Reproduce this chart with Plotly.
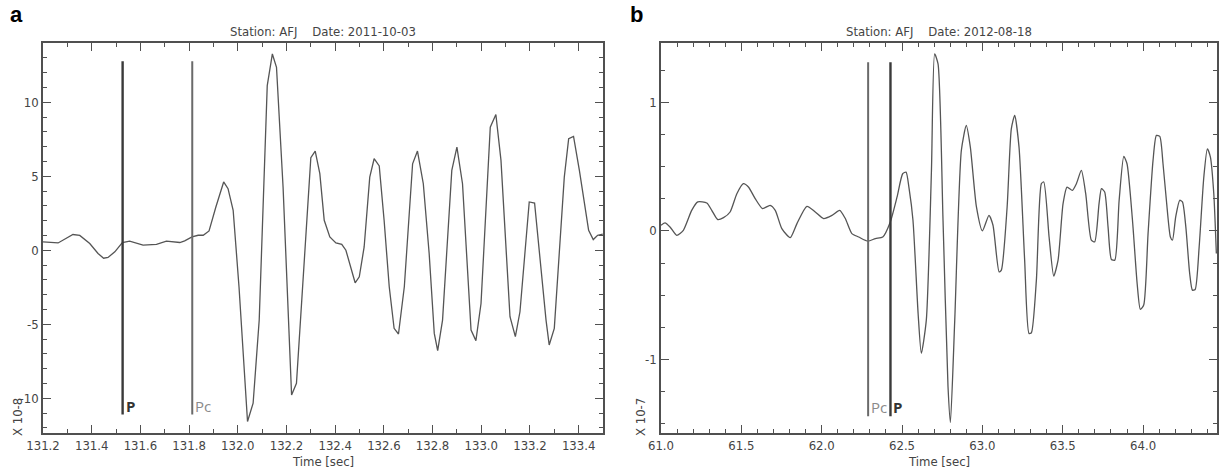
import plotly.graph_objects as go

# panel a: station AFJ, 2011-10-03 (amplitude x 10^-8)
t_a = [131.200, 131.262, 131.323, 131.351, 131.392, 131.426, 131.449, 131.467, 131.495,
       131.526, 131.556, 131.611, 131.666, 131.707, 131.762, 131.782, 131.812, 131.837,
       131.858, 131.882, 131.910, 131.942, 131.960, 131.981, 132.005, 132.040, 132.063,
       132.088, 132.121, 132.142, 132.159, 132.186, 132.221, 132.241, 132.275, 132.300,
       132.318, 132.337, 132.355, 132.378, 132.403, 132.427, 132.444, 132.482, 132.499,
       132.519, 132.542, 132.560, 132.581, 132.601, 132.622, 132.642, 132.660, 132.684,
       132.718, 132.738, 132.762, 132.786, 132.807, 132.821, 132.841, 132.879, 132.900,
       132.923, 132.958, 132.978, 132.999, 133.037, 133.060, 133.081, 133.118, 133.140,
       133.159, 133.197, 133.219, 133.238, 133.266, 133.279, 133.300, 133.341, 133.359,
       133.379, 133.403, 133.441, 133.460, 133.478, 133.499]
amp_a = [0.56, 0.49, 1.06, 1.00, 0.45, -0.22, -0.54, -0.49, -0.11,
         0.52, 0.61, 0.34, 0.40, 0.61, 0.52, 0.63, 0.90, 1.01,
         1.01, 1.30, 2.92, 4.61, 4.16, 2.70, -2.47, -11.57, -10.34,
         -4.72, 11.12, 13.26, 12.36, 4.27, -9.78, -8.99, -0.22, 6.25,
         6.70, 5.17, 2.02, 0.90, 0.49, 0.40, 0.00, -2.20, -1.80,
         0.22, 4.94, 6.18, 5.69, 2.02, -2.47, -5.28, -5.66, -2.47,
         5.84, 6.70, 4.49, -0.22, -5.62, -6.79, -4.72, 5.39, 6.97,
         4.49, -5.39, -6.11, -3.60, 8.31, 9.17, 6.07, -4.49, -5.84,
         -4.16, 3.26, 3.19, -0.22, -4.72, -6.40, -5.28, 4.94, 7.53,
         7.69, 5.39, 1.35, 0.72, 1.01, 1.08]

# panel b: station AFJ, 2012-08-18 (amplitude x 10^-7)
t_b = [61.000, 61.025, 61.056, 61.098, 61.139, 61.191, 61.229, 61.285, 61.316, 61.353,
       61.389, 61.430, 61.472, 61.513, 61.544, 61.586, 61.632, 61.679, 61.711, 61.752,
       61.804, 61.846, 61.908, 61.960, 62.012, 62.064, 62.112, 62.147, 62.188, 62.230,
       62.288, 62.334, 62.380, 62.427, 62.469, 62.504, 62.525, 62.544, 62.568, 62.600,
       62.620, 62.651, 62.683, 62.703, 62.724, 62.755, 62.786, 62.801, 62.828, 62.869,
       62.900, 62.925, 62.963, 63.000, 63.041, 63.066, 63.104, 63.118, 63.154, 63.180,
       63.201, 63.228, 63.263, 63.290, 63.305, 63.336, 63.367, 63.382, 63.415, 63.444,
       63.471, 63.502, 63.527, 63.560, 63.585, 63.616, 63.643, 63.678, 63.699, 63.726,
       63.741, 63.761, 63.782, 63.803, 63.824, 63.851, 63.880, 63.900, 63.934, 63.963,
       63.983, 64.004, 64.031, 64.062, 64.083, 64.104, 64.124, 64.145, 64.170, 64.183,
       64.203, 64.228, 64.245, 64.266, 64.290, 64.307, 64.324, 64.349, 64.378, 64.400,
       64.419, 64.440, 64.456]
amp_b = [0.044, 0.062, 0.031, -0.034, 0.005, 0.160, 0.225, 0.217, 0.160, 0.088,
         0.103, 0.147, 0.289, 0.367, 0.341, 0.251, 0.173, 0.199, 0.160, 0.018,
         -0.052, 0.057, 0.191, 0.147, 0.096, 0.121, 0.160, 0.096, -0.021, -0.047,
         -0.080, -0.059, -0.047, 0.070, 0.264, 0.444, 0.457, 0.328, 0.083, -0.641,
         -0.951, -0.693, 0.470, 1.375, 1.297, 0.083, -1.209, -1.488, -0.693, 0.625,
         0.819, 0.651, 0.186, 0.000, 0.121, 0.044, -0.318, -0.305, 0.186, 0.793,
         0.897, 0.651, -0.227, -0.796, -0.791, -0.382, 0.367, 0.380, -0.047, -0.351,
         -0.227, 0.212, 0.341, 0.315, 0.367, 0.470, 0.289, -0.072, -0.085, 0.212,
         0.328, 0.302, 0.031, -0.222, -0.227, 0.238, 0.579, 0.522, 0.083, -0.408,
         -0.610, -0.576, -0.021, 0.548, 0.742, 0.734, 0.522, 0.238, -0.047, -0.072,
         0.109, 0.238, 0.225, 0.031, -0.331, -0.460, -0.455, -0.124, 0.419, 0.638,
         0.574, 0.289, -0.176]

# picks: name, time, line top, line bottom
picks_a = [("P", 131.527, 12.76, -11.1), ("Pc", 131.813, 12.76, -11.1)]
picks_b = [("Pc", 62.289, 1.31, -1.44), ("P", 62.428, 1.31, -1.44)]

titles = ["Station: AFJ    Date: 2011-10-03", "Station: AFJ    Date: 2012-08-18"]
panel_letters = ["a", "b"]
scale_labels = ["X 10-8", "X 10-7"]
yticks_a = [-10, -5, 0, 5, 10]
yticktext_a = ["-10", "-5", "0", "5", "10"]
yticks_b = [-1, 0, 1]
yticktext_b = ["-1", "0", "1"]

W, H = 1224, 470
AX = "#505050"
TXT = "#444444"
FONT = "Liberation Sans Narrow, DejaVu Sans Condensed, Arial Narrow, sans-serif"

fig = go.Figure()

fig.add_trace(go.Scatter(x=t_a, y=amp_a, mode="lines", line=dict(color="#555555", width=1.3),
                         xaxis="x", yaxis="y", showlegend=False))
fig.add_trace(go.Scatter(x=t_b, y=amp_b, mode="lines",
                         line=dict(color="#555555", width=1.3, shape="spline", smoothing=0.6),
                         xaxis="x2", yaxis="y2", showlegend=False))

for picks, xa, ya in [(picks_a, "x", "y"), (picks_b, "x2", "y2")]:
    for name, t, top, bot in picks:
        col = "#3a3a3a" if name == "P" else "#6a6a6a"
        fig.add_trace(go.Scatter(x=[t, t], y=[top, bot], mode="lines",
                                 line=dict(color=col, width=2.4 if name == "P" else 2),
                                 xaxis=xa, yaxis=ya, showlegend=False))
        fig.add_annotation(x=t, y=bot, xref=xa, yref=ya, text=f"<b>{name}</b>" if name == "P" else name,
                           showarrow=False, xanchor="left", yanchor="bottom", xshift=1, yshift=-3,
                           font=dict(family="Open Sans, Arial, sans-serif", size=15,
                                     color="#333333" if name == "P" else "#8a8a8a"))

dom_a = [43 / W, 603 / W]
dom_b = [661 / W, 1217 / W]
dom_y = [1 - 433 / H, 1 - 43 / H]

def xax(domain, rng, dtick, minor, anchor):
    return dict(domain=domain, range=rng, dtick=dtick, tick0=0, tickformat=".1f", anchor=anchor,
                automargin=False,
                showline=True, mirror="ticks", linecolor=AX, linewidth=1.5,
                ticks="inside", ticklen=8, tickwidth=1.3, tickcolor=AX,
                minor=dict(ticks="inside", dtick=minor, tick0=0, ticklen=4, tickcolor=AX, tickwidth=1.1),
                showgrid=False, zeroline=False,
                tickfont=dict(family=FONT, size=13, color=TXT))

def yax(domain, rng, tv, tt, minor, anchor):
    return dict(domain=domain, range=rng, tickvals=tv, ticktext=tt, anchor=anchor,
                automargin=False,
                showline=True, mirror="ticks", linecolor=AX, linewidth=1.5,
                ticks="inside", ticklen=8, tickwidth=1.3, tickcolor=AX,
                minor=dict(ticks="inside", dtick=minor, tick0=0, ticklen=4, tickcolor=AX, tickwidth=1.1),
                showgrid=False, zeroline=False,
                tickfont=dict(family=FONT, size=13, color=TXT))

fig.update_layout(
    width=W, height=H,
    margin=dict(l=0, r=0, t=0, b=0),
    paper_bgcolor="white", plot_bgcolor="white",
    xaxis=xax(dom_a, [131.2, 133.5], 0.2, 0.1, "y"),
    yaxis=yax(dom_y, [-12.35, 14.0], yticks_a, yticktext_a, 1, "x"),
    xaxis2=xax(dom_b, [61.0, 64.46], 0.5, 0.1, "y2"),
    yaxis2=yax(dom_y, [-1.57, 1.46], yticks_b, yticktext_b, 0.25, "x2"),
)

for i, dom in enumerate([dom_a, dom_b]):
    cx = (dom[0] + dom[1]) / 2
    fig.add_annotation(x=cx, y=1 - 31 / H, xref="paper", yref="paper", text=titles[i],
                       showarrow=False, xanchor="center", yanchor="middle",
                       font=dict(family=FONT, size=13, color=TXT))
    fig.add_annotation(x=cx, y=1 - 461 / H, xref="paper", yref="paper", text="Time [sec]",
                       showarrow=False, xanchor="center", yanchor="middle",
                       font=dict(family=FONT, size=13, color=TXT))
    fig.add_annotation(x=(8 if i == 0 else 628) / W, y=1 - 15 / H, xref="paper", yref="paper",
                       text=f"<b>{panel_letters[i]}</b>", showarrow=False, xanchor="left", yanchor="middle",
                       font=dict(family="Liberation Sans, Arial, sans-serif", size=22, color="black"))
    fig.add_annotation(x=(17 if i == 0 else 640) / W, y=1 - 417 / H, xref="paper", yref="paper",
                       text=scale_labels[i], textangle=-90, showarrow=False,
                       xanchor="center", yanchor="middle",
                       font=dict(family=FONT, size=13, color=TXT))

fig.write_html("out.html", config={"displayModeBar": False},
               post_script="document.body.style.margin='0';")
